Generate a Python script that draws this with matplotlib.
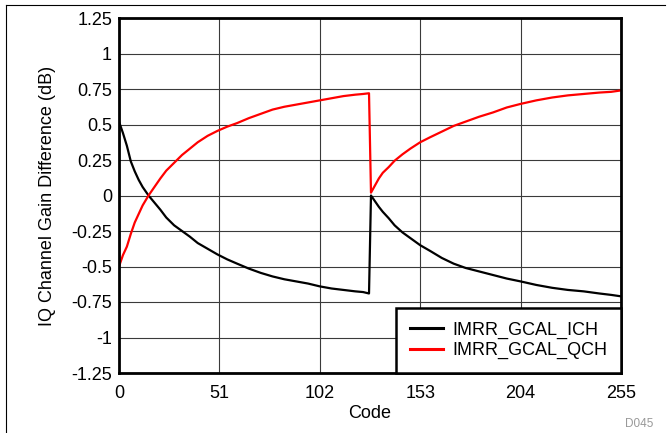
import matplotlib.pyplot as plt
from matplotlib.lines import Line2D

plt.rcParams['font.family'] = ['Liberation Sans', 'DejaVu Sans']

# IMRR gain calibration sweep, two ramps (codes 0-127 and 128-255)
code = [0, 2, 4, 6, 8, 10, 12, 15, 18, 21, 24, 28, 32, 36, 40, 45, 50, 55, 60,
        66, 72, 78, 84, 90, 96, 102, 108, 114, 120, 124, 127,
        128, 130, 132, 134, 137, 140, 144, 148, 153, 158, 164, 170, 176, 183,
        190, 197, 204, 212, 220, 228, 236, 244, 250, 255]
ich = [0.52, 0.44, 0.35, 0.24, 0.17, 0.11, 0.06, 0.00, -0.05, -0.10, -0.155,
       -0.21, -0.25, -0.29, -0.335, -0.375, -0.415, -0.45, -0.48, -0.515,
       -0.545, -0.57, -0.59, -0.605, -0.62, -0.64, -0.655, -0.665, -0.675,
       -0.68, -0.69,
       0.00, -0.04, -0.08, -0.115, -0.16, -0.21, -0.26, -0.30, -0.35, -0.39,
       -0.44, -0.48, -0.51, -0.535, -0.56, -0.585, -0.605, -0.63, -0.65,
       -0.665, -0.675, -0.69, -0.70, -0.71]
qch = [-0.50, -0.42, -0.36, -0.27, -0.19, -0.13, -0.07, 0.00, 0.06, 0.12,
       0.175, 0.23, 0.285, 0.33, 0.375, 0.42, 0.455, 0.485, 0.51, 0.545,
       0.575, 0.605, 0.625, 0.64, 0.655, 0.67, 0.685, 0.70, 0.71, 0.715, 0.72,
       0.02, 0.07, 0.12, 0.16, 0.20, 0.245, 0.29, 0.33, 0.375, 0.41, 0.45,
       0.49, 0.52, 0.555, 0.585, 0.62, 0.645, 0.67, 0.69, 0.705, 0.715, 0.725,
       0.73, 0.74]

xticks = [0, 51, 102, 153, 204, 255]
yticks = [1.25, 1, 0.75, 0.5, 0.25, 0, -0.25, -0.5, -0.75, -1, -1.25]
ylabels = ['1.25', '1', '0.75', '0.5', '0.25', '0', '-0.25', '-0.5', '-0.75', '-1', '-1.25']

fs = 13
fig = plt.figure(figsize=(6.69, 4.33), dpi=100)
ax = fig.add_axes([119/669, 60/433, 502/669, 355/433])

ax.plot(code, ich, color='black', lw=1.6, label='IMRR_GCAL_ICH')
ax.plot(code, qch, color='red', lw=1.6, label='IMRR_GCAL_QCH')

ax.set_xlim(0, 255)
ax.set_ylim(-1.25, 1.25)
ax.set_xticks(xticks)
ax.set_yticks(yticks)
ax.set_yticklabels(ylabels)
ax.tick_params(length=0, labelsize=fs)
ax.tick_params(axis='x', pad=9)
ax.tick_params(axis='y', pad=5)
ax.grid(True, color='#3a3a3a', lw=0.8)
ax.set_axisbelow(True)
for s in ax.spines.values():
    s.set_linewidth(2)

ax.set_xlabel('Code', fontsize=fs, labelpad=2)
ax.set_ylabel('IQ Channel Gain Difference (dB)', fontsize=fs, labelpad=11)

leg = ax.legend(loc='lower right', bbox_to_anchor=(1, 0), borderaxespad=0,
                fontsize=fs, fancybox=False, framealpha=1, handlelength=1.8,
                handletextpad=0.55, labelspacing=0.2, borderpad=0.75)
leg.get_frame().set_edgecolor('black')
leg.get_frame().set_linewidth(1.8)
for h in leg.legend_handles:
    h.set_linewidth(2.2)

fig.text(639/669, 1 - 424/433, 'D045', fontsize=8.5, color='#999999',
         ha='center', va='center')

# outer frame lines (top and left)
fig.add_artist(Line2D([6/669, 665/669], [1 - 5/433, 1 - 5/433], color='black', lw=0.8))
fig.add_artist(Line2D([6/669, 6/669], [0, 1 - 5/433], color='black', lw=0.8))

fig.savefig('out.png', dpi=100)
